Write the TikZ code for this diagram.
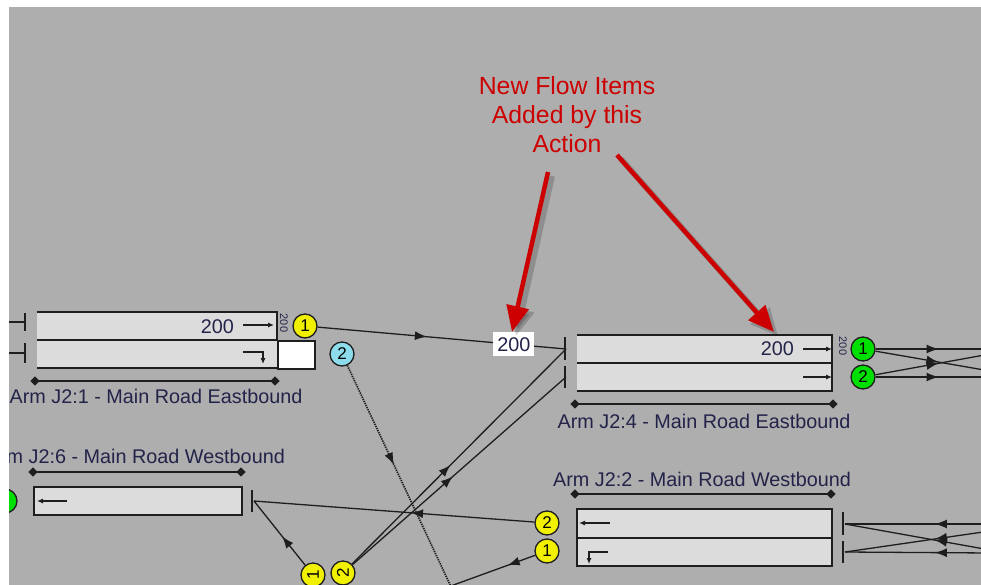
\documentclass[tikz,border=0pt]{standalone}
\usepackage{fontspec}
\setsansfont{Liberation Sans}
\usetikzlibrary{arrows.meta, positioning, shapes.geometric, decorations.markings}

\definecolor{panelgray}{HTML}{AEAEAE}
\definecolor{lanegray}{HTML}{DCDCDC}
\definecolor{ink}{HTML}{1E1E1E}
\definecolor{armtext}{HTML}{23234A}
\definecolor{notered}{HTML}{CC0000}
\definecolor{sigyellow}{HTML}{F0F000}
\definecolor{siggreen}{HTML}{00E000}
\definecolor{sigcyan}{HTML}{8CDCEB}

\begin{document}
\begin{tikzpicture}[
    x=1pt, y=-1pt,
    lane/.style={fill=lanegray, inner sep=0pt, outer sep=0pt, minimum height=28pt, anchor=north west},
    laneline/.style={draw=ink, line width=1.5pt},
    stopbar/.style={draw=ink, line width=2.6pt},
    sigdot/.style={circle, draw=ink, line width=1.3pt, fill=sigyellow, minimum size=24pt, inner sep=0pt,
        font=\sffamily\fontsize{17}{17}\selectfont},
    dimline/.style={draw=ink, line width=1.5pt},
    dimend/.style={diamond, fill=ink, inner sep=0pt, minimum size=10pt},
    armlabel/.style={anchor=base, text=armtext, inner sep=0pt, font=\sffamily\fontsize{19.8}{22}\selectfont},
    volume/.style={anchor=base east, text=armtext, inner sep=0pt, font=\sffamily\fontsize{19.8}{22}\selectfont},
    tinyvolume/.style={rotate=-90, text=armtext, inner sep=0pt, font=\sffamily\fontsize{11}{11}\selectfont},
    lanearrow/.style={draw=ink, line width=1.1pt, -{Latex[length=6pt, width=5pt]}},
    flow/.style={draw=ink, line width=1.3pt, postaction={decorate},
        decoration={markings, mark=at position #1 with {\arrow{Latex[length=12pt, width=9pt]}}}},
    flow/.default=0.5,
    notetext/.style={align=center, text=notered, inner sep=0pt, font=\sffamily\fontsize{24.8}{29}\selectfont},
    callout/.style={draw=notered, line width=4.5pt, -{Triangle[length=26pt, width=22pt]}},
    calloutshade/.style={draw=black, opacity=0.18, line width=6pt, -{Triangle[length=27pt, width=24pt]}}
]
\useasboundingbox (0,0) rectangle (981,585);
\fill[panelgray] (9,7) rectangle (981,585);

\begin{scope}
\clip (9,7) rectangle (981,585);

% Arm J2:1 - eastbound
\node[lane, minimum width=240pt] (e1a) at (37,312) {};
\node[lane, minimum width=240pt] (e1b) at (37,340) {};
\node[draw=ink, fill=white, line width=1.5pt, minimum width=37pt, minimum height=28pt, inner sep=0pt,
    anchor=north west] (e1x) at (e1b.north east) {};
\draw[laneline] (e1a.north west) -- (e1a.north east) -- (e1a.south east);
\draw[laneline] (e1a.south west) -- (e1a.south east);
\draw[laneline] (e1b.south west) -- (e1b.south east);
\coordinate (s1a) at (25,322);
\coordinate (s1b) at (25,353);
\coordinate (w1a) at (5,322);
\coordinate (w1b) at (5,353);
\draw[stopbar] (25,313) -- (25,331);
\draw[stopbar] (25,343) -- (25,363);
\draw[draw=ink, line width=1.3pt] (w1a) -- (s1a);
\draw[draw=ink, line width=1.3pt] (w1b) -- (s1b);
\node[volume] (v1) at (234,333) {200};
\draw[lanearrow] (243,325) -- (274,325);
\draw[lanearrow] (243,352) -- (263,352) -- (263,364);
\node[tinyvolume] (t1) at (284,323) {200};
\node[sigdot] (y1) at (305,326) {1};
\node[sigdot, fill=sigcyan] (c2) at (342,354) {2};
\draw[dimline] (35,381) node[dimend] (d1l) {} -- (275,381) node[dimend] (d1r) {};
\node[armlabel] (l1) at (156,403) {Arm J2:1 - Main Road Eastbound};

% Arm J2:4 - eastbound
\node[lane, minimum width=255pt] (e4a) at (577,335) {};
\node[lane, minimum width=255pt] (e4b) at (577,363) {};
\draw[laneline] (e4a.north west) -- (e4a.north east) -- (e4b.south east) -- (e4b.south west);
\draw[laneline] (e4a.south west) -- (e4a.south east);
\coordinate (s4a) at (566,349);
\coordinate (s4b) at (566,377);
\draw[stopbar] (565,337) -- (565,360);
\draw[stopbar] (565,366) -- (565,388);
\node[volume] (v4) at (794,355) {200};
\draw[lanearrow] (803,349) -- (832,349);
\draw[lanearrow] (803,377) -- (832,377);
\node[tinyvolume] (t4) at (843,346) {200};
\node[sigdot, fill=siggreen] (g1) at (863,349) {1};
\node[sigdot, fill=siggreen] (g2) at (863,377) {2};
\draw[dimline] (575,404) node[dimend] (d4l) {} -- (833,404) node[dimend] (d4r) {};
\node[armlabel] (l4) at (704,428) {Arm J2:4 - Main Road Eastbound};
\coordinate (o1) at (990,349);
\coordinate (o2) at (990,371);
\coordinate (o3) at (990,354);
\coordinate (o4) at (990,377);
\draw[flow=0.55] (g1) -- (o1);
\draw[flow=0.55] (g1) -- (o2);
\draw[flow=0.55] (g2) -- (o3);
\draw[flow=0.55] (g2) -- (o4);

% Arm J2:6 - westbound
\node[armlabel, anchor=base east] (l6) at (285,463) {Arm J2:6 - Main Road Westbound};
\draw[dimline] (33,472) node[dimend] (d6l) {} -- (241,472) node[dimend] (d6r) {};
\node[lane, draw=ink, line width=1.5pt, minimum width=208pt] (w6) at (34,487) {};
\draw[lanearrow] (67,501) -- (37,501);
\node[sigdot, fill=siggreen] (g6) at (5,501) {};
\coordinate (s6) at (254,501);
\draw[stopbar] (252,490) -- (252,512);

% Arm J2:2 - westbound
\node[armlabel] (l2) at (702,486) {Arm J2:2 - Main Road Westbound};
\draw[dimline] (575,494) node[dimend] (d2l) {} -- (831,494) node[dimend] (d2r) {};
\node[lane, minimum width=255pt, minimum height=29pt] (w2a) at (577,509) {};
\node[lane, minimum width=255pt] (w2b) at (577,538) {};
\draw[laneline] (w2a.north west) rectangle (w2b.south east);
\draw[laneline] (w2a.south west) -- (w2a.south east);
\draw[lanearrow] (610,523) -- (579,523);
\draw[lanearrow] (608,552) -- (589,552) -- (589,564);
\coordinate (s2a) at (845,524);
\coordinate (s2b) at (845,552);
\draw[stopbar] (843,512) -- (843,535);
\draw[stopbar] (843,541) -- (843,563);
\coordinate (i1) at (990,524);
\coordinate (i2) at (990,550);
\coordinate (i3) at (990,531);
\coordinate (i4) at (990,553);
\draw[flow=0.38] (i1) -- (s2a);
\draw[flow=0.38] (i2) -- (s2a);
\draw[flow=0.38] (i3) -- (s2b);
\draw[flow=0.38] (i4) -- (s2b);

% turning flows
\node[sigdot] (ya2) at (547,523) {2};
\node[sigdot] (ya1) at (547,551) {1};
\node[sigdot] (yb1) at (313,575) {\rotatebox{90}{1}};
\node[sigdot] (yb2) at (343,573) {\rotatebox{90}{2}};
\coordinate (f1) at (437,591);
\coordinate (f2) at (453,591);
\draw[flow=0.44] (ya2) -- (s6);
\draw[flow=0.45] (yb1) -- (s6);
\draw[flow=0.28] (ya1) -- (f1);
\draw[flow=0.46] (yb2) -- (s4a);
\draw[flow=0.47] (yb2) -- (s4b);
\draw[flow=0.44, densely dotted, line width=1.7pt] (c2) -- (f2);
\draw[flow=0.44] (y1) -- node[pos=0.79, fill=white, inner xsep=4pt, inner ysep=5pt, text=armtext,
    font=\sffamily\fontsize{19.8}{22}\selectfont] (n200) {200} (s4a);

% note and callouts
\node[notetext, anchor=base] (note) at (567,153) {New Flow Items\\Added by this\\Action};
\coordinate (k1) at (548,172);
\coordinate (k2) at (617,155);
\coordinate (tip1) at (512,332);
\coordinate (tip2) at (774,332);
\draw[calloutshade] ([shift={(4,4)}]k1) -- ([shift={(4,4)}]tip1);
\draw[calloutshade] ([shift={(4,4)}]k2) -- ([shift={(4,4)}]tip2);
\draw[callout] (k1) -- (tip1);
\draw[callout] (k2) -- (tip2);
\end{scope}
\end{tikzpicture}
\end{document}
